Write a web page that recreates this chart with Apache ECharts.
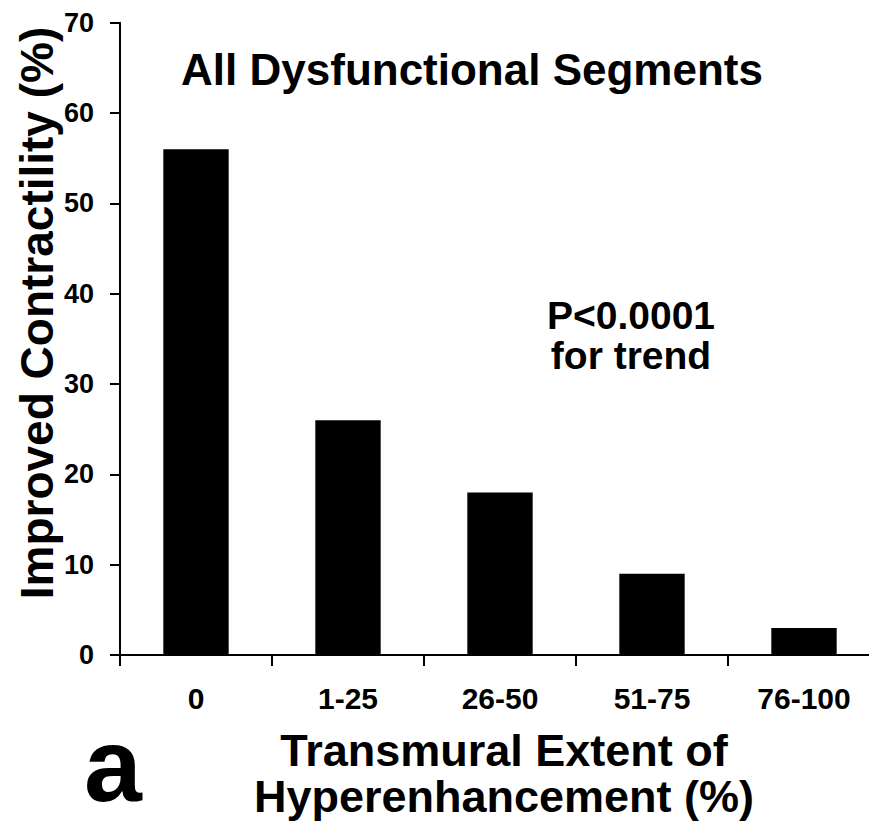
<!DOCTYPE html>
<html>
<head>
<meta charset="utf-8">
<style>
  html, body { margin: 0; padding: 0; background: #fff; }
  #chart { width: 869px; height: 828px; }
</style>
<script src="https://cdn.jsdelivr.net/npm/echarts@6/dist/echarts.min.js"></script>
</head>
<body>
<div id="chart"></div>
<script>
const categories = ['0', '1-25', '26-50', '51-75', '76-100'];
const improvedContractility = [56, 26, 18, 9, 3];
const chartTitle = 'All Dysfunctional Segments';
const yAxisTitle = 'Improved Contractility (%)';
const xAxisTitle = ['Transmural Extent of', 'Hyperenhancement (%)'];
const pLabel = ['P<0.0001', 'for trend'];
const panelLabel = 'a';

const FONT = "'Liberation Sans', Arial, Helvetica, sans-serif";
const chart = echarts.init(document.getElementById('chart'), null, { renderer: 'svg' });

chart.setOption({
  backgroundColor: '#ffffff',
  animation: false,
  grid: { left: 120, top: 22.7, width: 760, height: 632.3, containLabel: false, outerBoundsMode: 'none' },
  xAxis: {
    type: 'category',
    data: categories,
    boundaryGap: true,
    axisLine: { show: true, lineStyle: { color: '#000', width: 2 } },
    axisTick: { show: true, length: 11, inside: false, alignWithLabel: false, lineStyle: { color: '#000', width: 2 } },
    axisLabel: { color: '#000', fontFamily: FONT, fontWeight: 'bold', fontSize: 30, margin: 28, interval: 0 },
    splitLine: { show: false }
  },
  yAxis: {
    type: 'value',
    min: 0, max: 70, interval: 10,
    axisLine: { show: true, lineStyle: { color: '#000', width: 2 } },
    axisTick: { show: true, length: 10, lineStyle: { color: '#000', width: 2 } },
    axisLabel: { color: '#000', fontFamily: FONT, fontWeight: 'bold', fontSize: 27, margin: 26 },
    splitLine: { show: false }
  },
  series: [{
    type: 'bar',
    data: improvedContractility,
    barWidth: '43%',
    itemStyle: { color: '#000' }
  }],
  graphic: [
    { type: 'text', x: 472, y: 91, style: { text: chartTitle, fill: '#000', font: 'bold 44px ' + FONT, textAlign: 'center', textVerticalAlign: 'bottom' } },
    { type: 'text', x: 631, y: 335, style: { text: pLabel.join('\n'), fill: '#000', font: 'bold 39px ' + FONT, lineHeight: 40, textAlign: 'center', textVerticalAlign: 'middle' } },
    { type: 'text', x: 37, y: 313, rotation: Math.PI / 2, style: { text: yAxisTitle, fill: '#000', font: 'bold 46px ' + FONT, textAlign: 'center', textVerticalAlign: 'middle' } },
    { type: 'text', x: 504, y: 773, style: { text: xAxisTitle.join('\n'), fill: '#000', font: 'bold 45px ' + FONT, lineHeight: 46, textAlign: 'center', textVerticalAlign: 'middle' } },
    { type: 'text', x: 113, y: 817, style: { text: panelLabel, fill: '#000', font: 'bold 104px ' + FONT, textAlign: 'center', textVerticalAlign: 'bottom' } }
  ]
});
</script>
</body>
</html>
